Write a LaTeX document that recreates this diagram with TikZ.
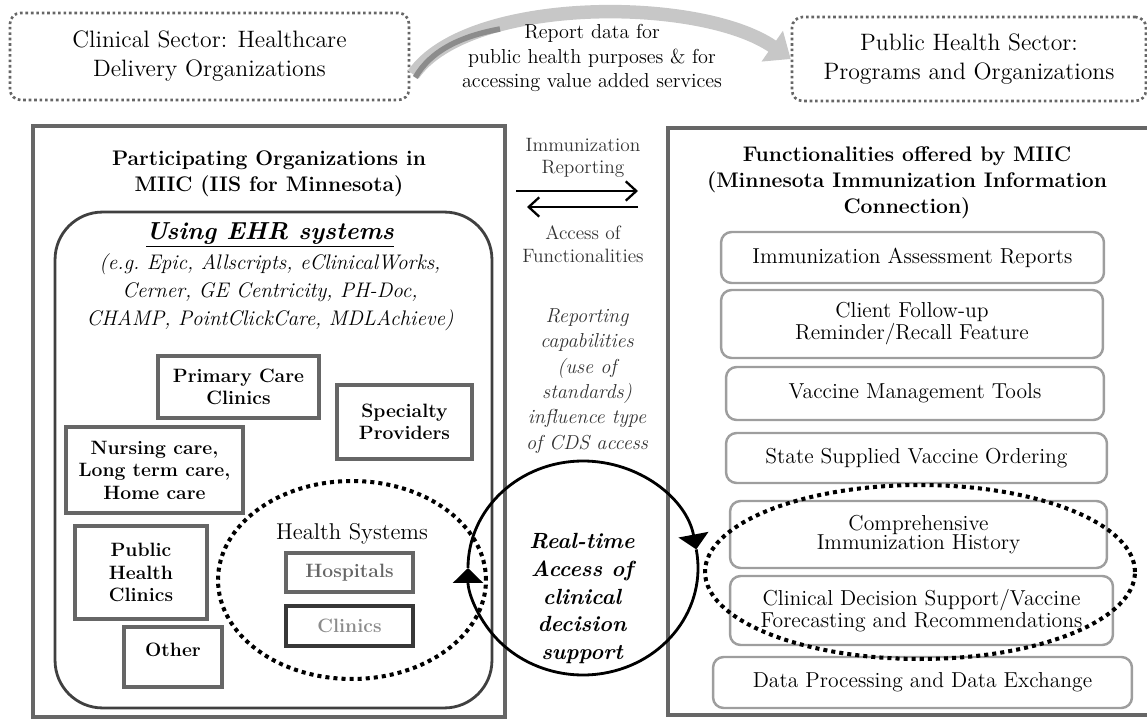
\documentclass[tikz,border=0pt]{standalone}
\usepackage{tikz}
\usetikzlibrary{positioning}
\usetikzlibrary{arrows.meta}
\usetikzlibrary{shapes.geometric}

\begin{document}
\begin{tikzpicture}[
x=0.02cm, y=-0.02cm,
every node/.style={inner sep=1pt, align=center},
dotbox/.style={draw=black!60, rounded corners=6pt, line width=1.5pt, dash pattern=on 1.5pt off 1.6pt, font=\fontsize{13.5}{16.5}\selectfont},
bigbox/.style={draw=black!60, line width=2.4pt},
ehrbox/.style={draw=black!75, line width=1.6pt, rounded corners=0.95cm},
orgbox/.style={draw=black!60, line width=1.8pt, font=\bfseries\fontsize{11}{12.8}\selectfont},
hsbox/.style={draw=black!60, line width=1.8pt, text=black!60, font=\bfseries\fontsize{11}{13}\selectfont},
funcbox/.style={draw=black!38, rounded corners=6pt, line width=1.4pt, font=\fontsize{12.3}{11.2}\selectfont},
titletxt/.style={font=\bfseries\fontsize{12}{14.8}\selectfont},
midtxt/.style={text=black!80, font=\fontsize{11}{12.8}\selectfont},
dotring/.style={draw=black, line width=2.3pt, dash pattern=on 2.3pt off 2.3pt},
fwdarrow/.style={line width=1.3pt, -{Straight Barb[length=6pt, width=11pt, line width=1.3pt]}},
cdsarrow/.style={line width=1.6pt, -{Triangle[length=0.3cm, width=0.6cm]}}
]
\clip (0,0) rectangle (1147,719);

% sectors on top
\node[dotbox, minimum width=7.98cm, minimum height=1.74cm] (clin) at (209.5,56.5) {Clinical Sector: Healthcare\\Delivery Organizations};
\node[dotbox, minimum width=7.08cm, minimum height=1.68cm] (pub) at (969,59) {Public Health Sector:\\Programs and Organizations};
\coordinate (rdS) at ([shift={(3,18)}]clin.east);
\draw[line width=0.27cm, black!22, -{Triangle[length=0.45cm, width=0.72cm]}] (rdS) .. controls (468,-4) and (700,-4) .. (pub.west);
\draw[line width=0.11cm, black!45] ([shift={(2,3)}]rdS) .. controls (431,50) and (462,36) .. (500,29);
\node[font=\fontsize{11.5}{14.2}\selectfont] (rdtxt) at (592,58) {Report data for\\public health purposes \& for\\accessing value added services};

% participating organizations
\node[bigbox, minimum width=9.44cm, minimum height=11.82cm] (part) at (269,421.5) {};
\node[titletxt] (parttitle) at (269,174) {Participating Organizations in\\MIIC (IIS for Minnesota)};
\node[ehrbox, minimum width=8.74cm, minimum height=9.92cm] (ehr) at (273.5,460) {};
\node[font=\bfseries\itshape\fontsize{14}{16}\selectfont] (ehrtitle) at (270,235) {\underline{Using EHR systems}};
\node[font=\itshape\fontsize{12}{15.9}\selectfont] (ehrlist) at (270,292) {(e.g.\ Epic, Allscripts, eClinicalWorks,\\Cerner, GE Centricity, PH-Doc,\\CHAMP, PointClickCare, MDLAchieve)};

\node[orgbox, minimum width=3.22cm, minimum height=1.24cm] (pcc) at (238.5,387) {Primary Care\\Clinics};
\node[orgbox, minimum width=2.7cm, minimum height=1.48cm] (spec) at (404.5,422) {Specialty\\Providers};
\node[orgbox, minimum width=3.54cm, minimum height=1.72cm] (nurse) at (154.5,470) {Nursing care,\\Long term care,\\Home care};
\node[orgbox, minimum width=2.64cm, minimum height=1.86cm] (phc) at (141,572.5) {Public\\Health\\Clinics};
\node[orgbox, minimum width=1.96cm, minimum height=1.2cm] (other) at (173,657) {Other\\[-4pt]\mbox{}};

% health systems
\node[dotring, ellipse, minimum width=5.36cm, minimum height=3.96cm] (hsring) at (352,580) {};
\node[font=\fontsize{13}{15}\selectfont] (hslabel) at (352,534) {Health Systems};
\node[hsbox, minimum width=2.54cm, minimum height=0.78cm] (hosp) at (349.5,572.5) {Hospitals};
\node[hsbox, draw=black!78, line width=2.3pt, text=black!45, minimum width=2.54cm, minimum height=0.8cm, below=0.2cm of hosp] (hclin) {Clinics};

% middle column
\node[midtxt] (imrep) at (583,158) {Immunization\\Reporting};
\coordinate (repL) at (516,191);
\coordinate (repR) at (638,191);
\coordinate (accR) at (638,207);
\coordinate (accL) at (527,207);
\draw[fwdarrow] (repL) -- (repR);
\draw[fwdarrow] (accR) -- (accL);
\node[midtxt] (accfun) at (583,244) {Access of\\Functionalities};
\node[midtxt, font=\itshape\fontsize{11.5}{14.4}\selectfont] (repcap) at (587,381) {Reporting\\capabilities\\(use of\\standards)\\influence type\\of CDS access};

% functionalities
\node[bigbox, minimum width=9.84cm, minimum height=11.74cm] (funct) at (914,421.5) {};
\node[titletxt] (functitle) at (907,183) {Functionalities offered by MIIC\\(Minnesota Immunization Information\\Connection)};
\node[funcbox, minimum width=7.66cm, minimum height=1.02cm] (iar) at (912.5,257.5) {Immunization Assessment Reports};
\node[funcbox, minimum width=7.64cm, minimum height=1.36cm] (cfu) at (912,324) {Client Follow-up\\Reminder/Recall Feature};
\node[funcbox, minimum width=7.56cm, minimum height=1.06cm] (vmt) at (915,393.5) {Vaccine Management Tools};
\node[funcbox, minimum width=7.62cm, minimum height=1.0cm] (svo) at (916.5,458) {State Supplied Vaccine Ordering};
\node[funcbox, minimum width=7.54cm, minimum height=1.34cm] (cih) at (918.5,534.5) {Comprehensive\\Immunization History};
\node[funcbox, minimum width=7.66cm, minimum height=1.38cm] (cdsf) at (921.5,610.5) {Clinical Decision Support/Vaccine\\Forecasting and Recommendations};
\node[funcbox, minimum width=8.38cm, minimum height=1.02cm] (dpx) at (922.5,682.5) {Data Processing and Data Exchange};
\node[dotring, ellipse, minimum width=8.6cm, minimum height=3.48cm] (cdsring) at (920,572) {};

% real-time cds loop
\coordinate (cdsc) at (583,568);
\node[font=\bfseries\itshape\fontsize{12.5}{15.9}\selectfont] (rtcds) at (582,598.5) {Real-time\\Access of\\clinical\\decision\\support};
\draw[cdsarrow] (cdsc) ++(-180:115 and 107) arc[start angle=-180, end angle=-10, x radius=115, y radius=107];
\draw[cdsarrow] (cdsc) ++(-10:115 and 107) arc[start angle=-10, end angle=180, x radius=115, y radius=107];
\end{tikzpicture}
\end{document}
